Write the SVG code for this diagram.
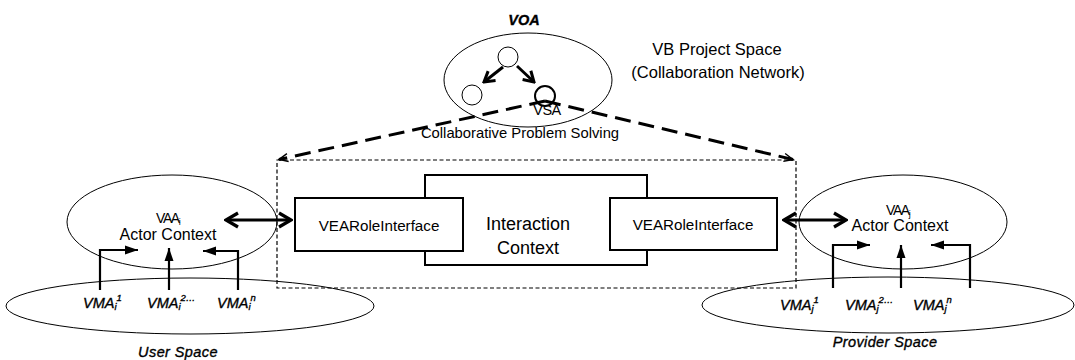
<svg xmlns="http://www.w3.org/2000/svg" width="1075" height="360" viewBox="0 0 1075 360">
  <style>
    .bg { fill: #ffffff; }
    .outline { fill: none; stroke: #000; stroke-width: 1; }
    .box { fill: #ffffff; stroke: #000; stroke-width: 2; }
    .label { font-family: "Liberation Sans", Arial, sans-serif; fill: #000; }
    .ital { font-family: "Liberation Sans", Arial, sans-serif; font-style: italic; fill: #000; stroke: #000; stroke-width: 0.35; }
    .thick { fill: none; stroke: #000; stroke-width: 3; }
    .bent { fill: none; stroke: #000; stroke-width: 2.2; }
    .dashbig { fill: none; stroke: #000; stroke-width: 3; stroke-dasharray: 16 8; }
    .dashthin { fill: none; stroke: #000; stroke-width: 1.2; stroke-dasharray: 4 2.5; }
  </style>
  <defs>
    <marker id="chev" viewBox="-14 -9 16 18" refX="0" refY="0" markerWidth="16" markerHeight="18" markerUnits="userSpaceOnUse" orient="auto-start-reverse">
      <path d="M-12,-7 L0,0 L-12,7" fill="none" stroke="#000" stroke-width="3.2"/>
    </marker>
    <marker id="chevSmall" viewBox="-12 -8 14 16" refX="0" refY="0" markerWidth="14" markerHeight="16" markerUnits="userSpaceOnUse" orient="auto">
      <path d="M-10,-6 L0,0 L-10,6" fill="none" stroke="#000" stroke-width="3"/>
    </marker>
    <marker id="tri" viewBox="-14 -6 15 12" refX="0" refY="0" markerWidth="15" markerHeight="12" markerUnits="userSpaceOnUse" orient="auto">
      <path d="M-13,-4.5 L0,0 L-13,4.5 Z" fill="#000"/>
    </marker>
    <marker id="thinHead" viewBox="-11 -6 12 12" refX="0" refY="0" markerWidth="12" markerHeight="12" markerUnits="userSpaceOnUse" orient="auto">
      <path d="M-9,-4 L0,0 L-9,4" fill="none" stroke="#000" stroke-width="1.4"/>
    </marker>
  </defs>

  <rect class="bg" x="0" y="0" width="1075" height="360"/>

  <!-- VB project space with the VOA collaboration network -->
  <g id="voa">
    <text class="ital" x="524" y="25" font-size="14.5" font-weight="bold" text-anchor="middle">VOA</text>
    <ellipse class="outline" cx="528" cy="80" rx="84" ry="47"/>
    <circle class="outline" cx="508" cy="57" r="10"/>
    <circle class="outline" cx="472" cy="95" r="10"/>
    <circle cx="545" cy="96" r="10" fill="none" stroke="#000" stroke-width="2"/>
    <text class="label" x="547" y="115" font-size="14.5" text-anchor="middle" letter-spacing="-0.5">VSA</text>
  </g>
  <g id="project-space">
    <text class="label" x="717" y="55" font-size="16.5" text-anchor="middle">VB Project Space</text>
    <text class="label" x="718" y="78" font-size="16.5" text-anchor="middle">(Collaboration Network)</text>
  </g>
  <g id="problem-solving">
    <text class="label" x="520" y="138" font-size="14.8" text-anchor="middle">Collaborative Problem Solving</text>
    <rect class="dashthin" x="277" y="160" width="519" height="128"/>
  </g>

  <!-- interaction context and the two role interfaces -->
  <g id="interaction-context">
    <rect class="box" x="425" y="175" width="222" height="90"/>
    <text class="label" x="528" y="230" font-size="18" text-anchor="middle">Interaction</text>
    <text class="label" x="528" y="254" font-size="18" text-anchor="middle">Context</text>
  </g>
  <g id="role-interface-left">
    <rect class="box" x="295" y="198" width="168" height="53"/>
    <text class="label" x="379" y="231" font-size="15.2" text-anchor="middle">VEARoleInterface</text>
  </g>
  <g id="role-interface-right">
    <rect class="box" x="610" y="198" width="167" height="52"/>
    <text class="label" x="693" y="230" font-size="15.2" text-anchor="middle">VEARoleInterface</text>
  </g>

  <!-- user side -->
  <g id="actor-i">
    <ellipse class="outline" cx="172" cy="222" rx="105" ry="47"/>
    <text class="label" x="156" y="223" font-size="14" letter-spacing="-1.4">VAA<tspan font-size="9" dy="2" letter-spacing="0">i</tspan></text>
    <text class="label" x="168" y="240" font-size="16" text-anchor="middle">Actor Context</text>
  </g>
  <g id="user-space">
    <ellipse class="outline" cx="190" cy="306" rx="184" ry="28"/>
    <text class="ital" x="83" y="308" font-size="14.5">VMA<tspan font-size="9.5" dy="2">i</tspan><tspan font-size="9.5" dy="-9">1</tspan></text>
    <text class="ital" x="147" y="308" font-size="14.5">VMA<tspan font-size="9.5" dy="2">i</tspan><tspan font-size="9.5" dy="-9">2…</tspan></text>
    <text class="ital" x="217" y="308" font-size="14.5">VMA<tspan font-size="9.5" dy="2">i</tspan><tspan font-size="9.5" dy="-9">n</tspan></text>
    <text class="ital" x="178" y="357" font-size="14.5" text-anchor="middle" letter-spacing="0.4">User Space</text>
  </g>

  <!-- provider side -->
  <g id="actor-j">
    <ellipse class="outline" cx="903" cy="222" rx="104" ry="47"/>
    <text class="label" x="886" y="215" font-size="14" letter-spacing="-1.4">VAA<tspan font-size="9" dy="2" letter-spacing="0">j</tspan></text>
    <text class="label" x="900" y="231" font-size="16" text-anchor="middle">Actor Context</text>
  </g>
  <g id="provider-space">
    <ellipse class="outline" cx="888" cy="305" rx="186" ry="28"/>
    <text class="ital" x="780" y="310" font-size="14.5">VMA<tspan font-size="9.5" dy="2">j</tspan><tspan font-size="9.5" dy="-9">1</tspan></text>
    <text class="ital" x="845" y="310" font-size="14.5">VMA<tspan font-size="9.5" dy="2">j</tspan><tspan font-size="9.5" dy="-9">2…</tspan></text>
    <text class="ital" x="913" y="310" font-size="14.5">VMA<tspan font-size="9.5" dy="2">j</tspan><tspan font-size="9.5" dy="-9">n</tspan></text>
    <text class="ital" x="885" y="347" font-size="14.5" text-anchor="middle" letter-spacing="0.4">Provider Space</text>
  </g>

  <!-- connectors -->
  <g id="connectors">
    <!-- VOA internal links -->
    <line class="thick" x1="503" y1="67" x2="484" y2="82" marker-end="url(#chevSmall)"/>
    <line class="thick" x1="517" y1="66" x2="534" y2="82" marker-end="url(#chevSmall)"/>

    <!-- VSA expands into the problem-solving frame -->
    <path class="dashbig" d="M545,101 L279,159.5" marker-end="url(#thinHead)"/>
    <path class="dashbig" d="M545,101 L793,159.5" marker-end="url(#thinHead)"/>

    <!-- actor contexts to role interfaces -->
    <line class="thick" x1="226" y1="220" x2="291" y2="220" marker-start="url(#chev)" marker-end="url(#chev)"/>
    <line class="thick" x1="784" y1="220" x2="846" y2="220" marker-start="url(#chev)" marker-end="url(#chev)"/>

    <!-- VMAs feeding the user actor context -->
    <path class="bent" d="M100,290 L100,250 L138,250" marker-end="url(#tri)"/>
    <path class="bent" d="M169,290 L169,248" marker-end="url(#tri)"/>
    <path class="bent" d="M238,290 L238,251 L203,251" marker-end="url(#tri)"/>

    <!-- VMAs feeding the provider actor context -->
    <path class="bent" d="M833,288 L833,245 L870,245" marker-end="url(#tri)" stroke-width="1.6"/>
    <path class="bent" d="M901,288 L901,245" marker-end="url(#tri)" stroke-width="3.2"/>
    <path class="bent" d="M970,288 L970,245 L931,245" marker-end="url(#tri)"/>
  </g>
</svg>
